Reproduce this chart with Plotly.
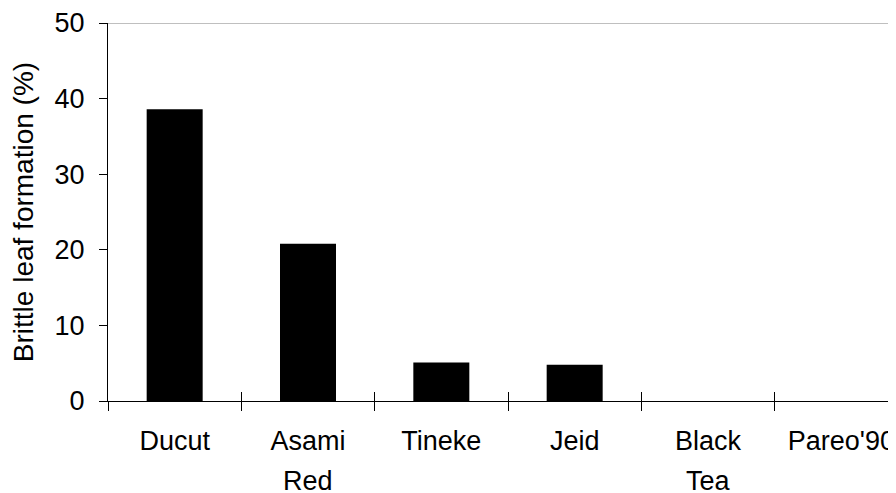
import plotly.graph_objects as go

categories = ["Ducut", "Asami Red", "Tineke", "Jeid", "Black Tea", "Pareo'90"]
values = [38.6, 20.8, 5.1, 4.8, 0, 0]
label_line1 = ["Ducut", "Asami", "Tineke", "Jeid", "Black", "Pareo'90"]
label_line2 = ["", "Red", "", "", "Tea", ""]
y_ticks = [0, 10, 20, 30, 40, 50]

FONT = "Liberation Sans, Arial, sans-serif"
FS = 27

fig = go.Figure()
fig.add_trace(go.Bar(x=categories, y=values, width=0.42,
                     marker=dict(color="black", line=dict(width=0)),
                     showlegend=False))
# helper invisible trace so the overlay axis is drawn
fig.add_trace(go.Scatter(x=[], y=[], xaxis="x2", yaxis="y", showlegend=False))

x_range = [-0.5, 5.41]

fig.update_layout(
    width=888, height=485,
    margin=dict(l=100, r=0, t=15, b=92),
    paper_bgcolor="white", plot_bgcolor="white",
    font=dict(family=FONT, size=FS, color="black"),
    xaxis=dict(type="category", categoryorder="array", categoryarray=categories,
               range=x_range, tickvals=categories, ticktext=label_line1,
               tickson="boundaries", ticks="outside", ticklen=9, tickwidth=1,
               tickcolor="black", showline=True, linecolor="black", linewidth=1,
               showgrid=False, zeroline=False, tickfont=dict(size=FS),
               ticklabelstandoff=16),
    xaxis2=dict(overlaying="x", anchor="y", side="bottom", range=x_range,
                tickvals=[i - 0.5 for i in range(len(categories) + 1)],
                ticks="inside", ticklen=9, tickwidth=1, tickcolor="black",
                showticklabels=False, showline=False, showgrid=False, zeroline=False),
    yaxis=dict(range=[0, 50], tickvals=y_ticks, ticks="outside", ticklen=8,
               tickwidth=1, tickcolor="black", showline=True, linecolor="black",
               linewidth=1, showgrid=False, zeroline=False, tickfont=dict(size=FS),
               title=dict(text="Brittle leaf formation (%)", font=dict(size=28), standoff=13),
               ticklabelstandoff=9),
    shapes=[dict(type="line", xref="paper", yref="y", x0=0, x1=1, y0=50, y1=50,
                 line=dict(color="#808080", width=1))],
)

for c, t in zip(categories, label_line2):
    if t:
        fig.add_annotation(x=c, y=0, xref="x", yref="paper", text=t, showarrow=False,
                           yanchor="top", yshift=-63, font=dict(size=FS, family=FONT))

fig.write_html("out.html")
